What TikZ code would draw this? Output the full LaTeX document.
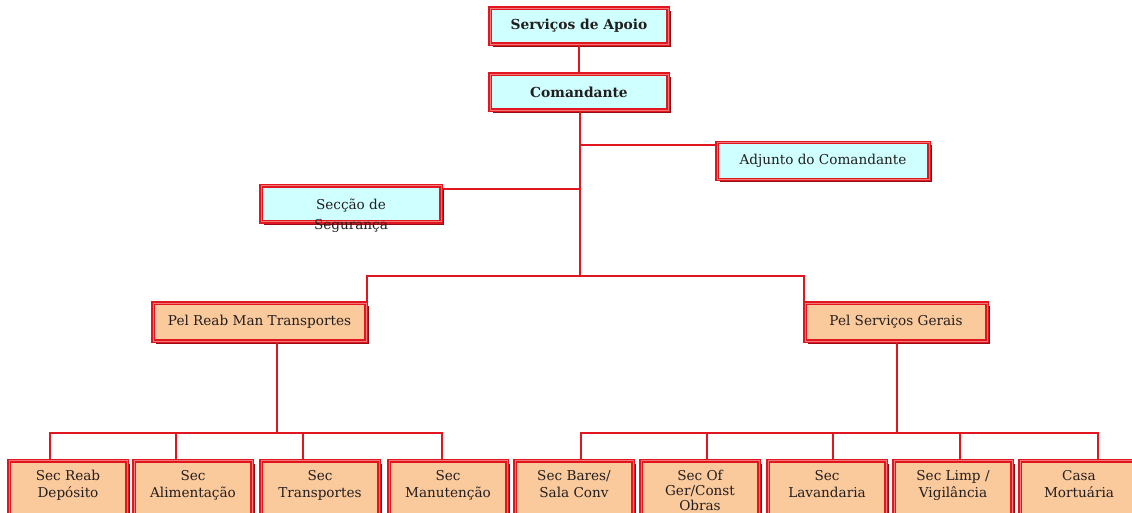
\documentclass[tikz,border=0pt]{standalone}
\usepackage{fontspec}
\setmainfont{DejaVu Serif}
\usetikzlibrary{shadows}
\definecolor{frame}{RGB}{225,22,30}
\definecolor{frameshade}{RGB}{150,12,18}
\definecolor{framegap}{RGB}{240,120,120}
\definecolor{cyanfill}{RGB}{207,255,255}
\definecolor{peachfill}{RGB}{250,201,156}
\definecolor{ink}{RGB}{35,30,30}
\newcommand{\twoline}[2]{\begin{tabular}[t]{@{}c@{}}#1\\#2\end{tabular}}
\newcommand{\threeline}[3]{\begin{tabular}[t]{@{}c@{}}#1\\#2\\#3\end{tabular}}
\tikzset{
  box/.style={draw=frame, line width=1.5pt, double=framegap, double distance=0.6pt,
    inner sep=0pt, text=ink, font=\fontsize{13.6}{16.5}\selectfont,
    drop shadow={shadow xshift=3pt, shadow yshift=-3pt, fill=frameshade, opacity=1}},
  headbox/.style={box, fill=cyanfill, font=\bfseries\fontsize{13.8}{16}\selectfont,
    minimum width=178pt, minimum height=36pt},
  staffbox/.style={box, fill=cyanfill},
  platbox/.style={box, fill=peachfill, minimum height=38pt},
  secbox/.style={box, fill=peachfill, anchor=north, minimum width=118pt,
    text height=20pt, text depth=60pt},
  link/.style={draw=frame, line width=1.8pt},
}
\begin{document}
\begin{tikzpicture}[x=1pt,y=-1pt]
\useasboundingbox (0,0) rectangle (1132,513);
\clip (0,0) rectangle (1132,513);

% command chain
\node[headbox] (srv) at (579,26) {Serviços de Apoio};
\node[headbox] (cmd) at (579,92) {Comandante};
\node[staffbox, minimum width=212pt, minimum height=37pt] (adj) at (823,161) {Adjunto do Comandante};
\node[staffbox, anchor=north, minimum width=180pt, text height=24pt, text depth=12pt,
      font=\fontsize{13.6}{20}\selectfont] (seg) at (351,185) {\twoline{Secção de}{Segurança}};

% platoons
\node[platbox, minimum width=213pt] (pelr) at (259.5,322) {Pel Reab Man Transportes};
\node[platbox, minimum width=182pt] (pels) at (896,322) {Pel Serviços Gerais};

% sections
\node[secbox] (s1) at (68,460)   {\twoline{Sec Reab}{Depósito}};
\node[secbox] (s2) at (193,460)  {\twoline{Sec}{Alimentação}};
\node[secbox] (s3) at (320,460)  {\twoline{Sec}{Transportes}};
\node[secbox] (s4) at (448,460)  {\twoline{Sec}{Manutenção}};
\node[secbox] (s5) at (574,460)  {\twoline{Sec Bares/}{Sala Conv}};
\node[secbox, font=\fontsize{13.6}{15}\selectfont] (s6) at (700,460)  {\threeline{Sec Of}{Ger/Const}{Obras}};
\node[secbox] (s7) at (827,460)  {\twoline{Sec}{Lavandaria}};
\node[secbox] (s8) at (953,460)  {\twoline{Sec Limp /}{Vigilância}};
\node[secbox] (s9) at (1079,460) {\twoline{Casa}{Mortuária}};

% junctions
\coordinate (hub) at (580,276);
\coordinate (adjtap) at (580,145);
\coordinate (segtap) at (580,189);
\coordinate (lbus) at (277,433);
\coordinate (rbus) at (897,433);

% connectors
\draw[link] (srv) -- (cmd);
\draw[link] (hub |- cmd.south) -- (hub);
\draw[link] (adjtap) -- (adjtap -| adj.west);
\draw[link] (segtap) -- (segtap -| seg.east);
\draw[link] (pelr.north east) |- (hub) -| (pels.north west);

\draw[link] (lbus |- pelr.south) -- (lbus);
\draw[link] ([xshift=-18pt]s1.north) |- (lbus) -| ([xshift=-6pt]s4.north);
\draw[link] ([xshift=-17pt]s2.north) |- (lbus);
\draw[link] ([xshift=-17pt]s3.north) |- (lbus);

\draw[link] (rbus |- pels.south) -- (rbus);
\draw[link] ([xshift=7pt]s5.north) |- (rbus) -| ([xshift=19pt]s9.north);
\draw[link] ([xshift=7pt]s6.north) |- (rbus);
\draw[link] ([xshift=6pt]s7.north) |- (rbus);
\draw[link] ([xshift=7pt]s8.north) |- (rbus);
\end{tikzpicture}
\end{document}
